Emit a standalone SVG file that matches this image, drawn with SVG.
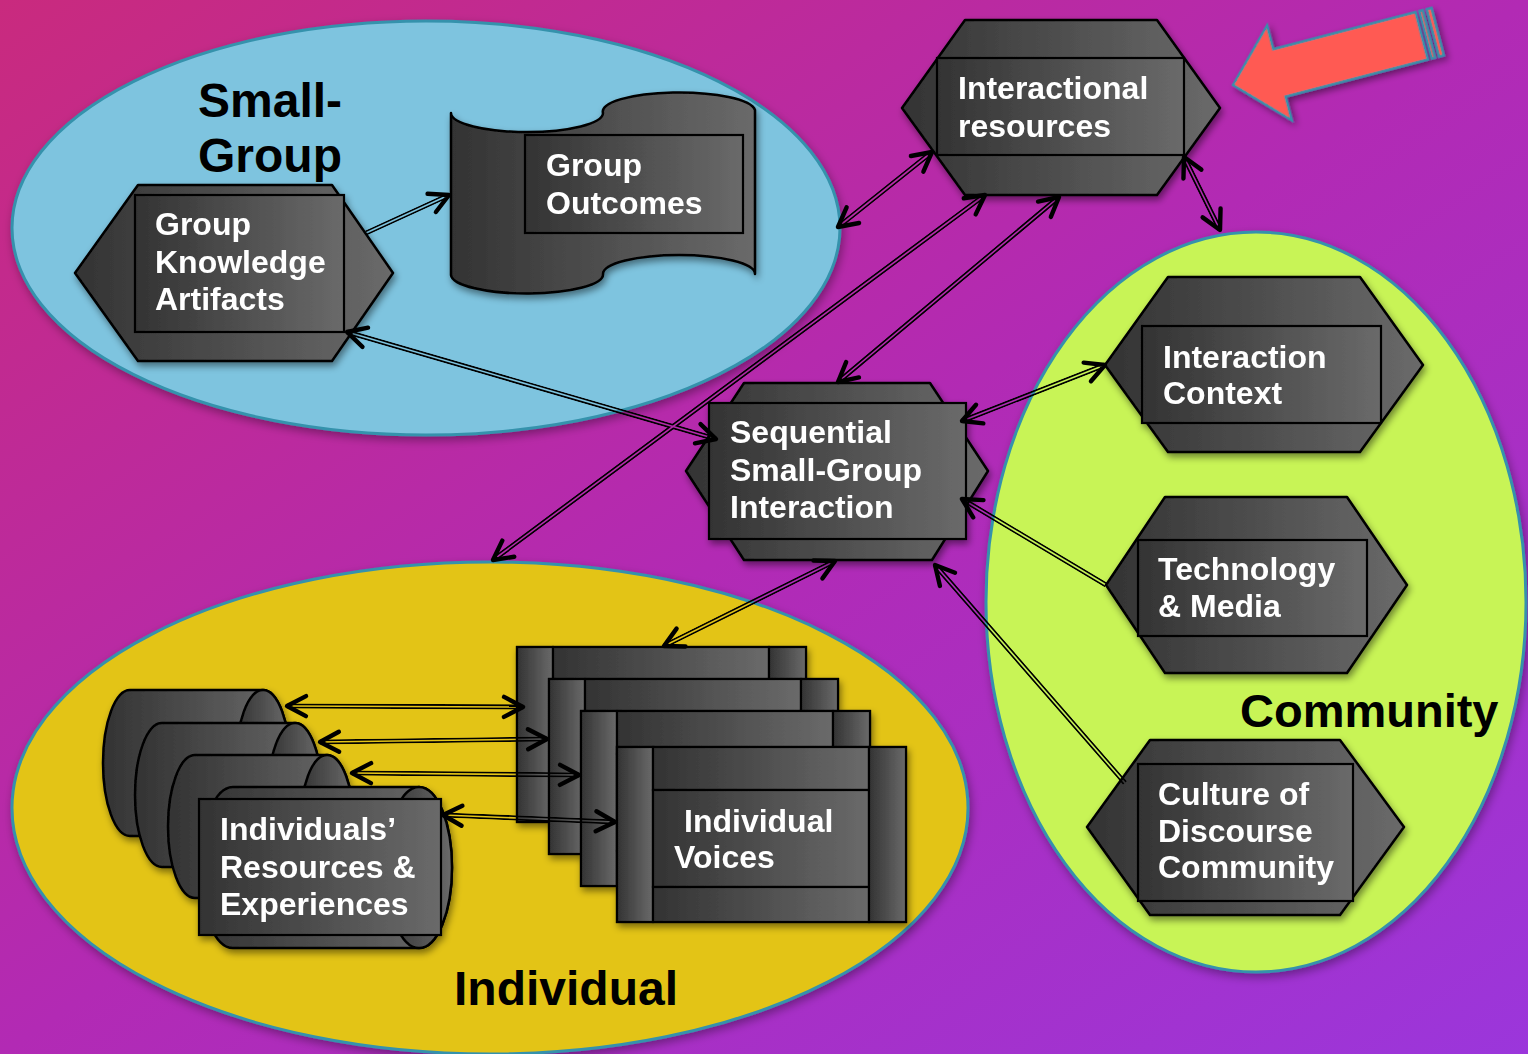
<svg xmlns="http://www.w3.org/2000/svg" xmlns:xlink="http://www.w3.org/1999/xlink" width="1528" height="1054" viewBox="0 0 1528 1054">
  <defs>
    <linearGradient id="bg" x1="0" y1="0" x2="1" y2="1">
      <stop offset="0" stop-color="#C92A7E"/>
      <stop offset="0.5" stop-color="#B22AB4"/>
      <stop offset="1" stop-color="#9B36DB"/>
    </linearGradient>
    <linearGradient id="metal" x1="0" y1="0" x2="1" y2="0">
      <stop offset="0" stop-color="#333333"/>
      <stop offset="1" stop-color="#6A6A6A"/>
    </linearGradient>
    <filter id="sh" x="-10%" y="-10%" width="125%" height="130%">
      <feDropShadow dx="2" dy="4" stdDeviation="3.5" flood-color="#000" flood-opacity="0.45"/>
    </filter>
    <filter id="shSoft" x="-5%" y="-5%" width="112%" height="115%">
      <feDropShadow dx="2" dy="4" stdDeviation="5" flood-color="#000" flood-opacity="0.35"/>
    </filter>
    <style>
      .region { stroke: #3592AC; stroke-width: 3; }
      .area { font-family: "Liberation Sans", Arial, sans-serif; font-weight: bold; fill: #000; }
      .shape { fill: url(#metal); stroke: #000; stroke-width: 2.5; stroke-linejoin: round; }
      .box { fill: url(#metal); stroke: #000; stroke-width: 2.2; }
      .lbl { font-family: "Liberation Sans", Arial, sans-serif; font-weight: bold; font-size: 32px; fill: #fff; }
      .arrowbody { fill: #FF5A52; stroke: #3790AA; stroke-width: 2.5; stroke-linejoin: miter; }
    </style>
    <!-- open chevron arrowhead -->
    <marker id="ah" markerUnits="userSpaceOnUse" orient="auto-start-reverse" viewBox="-25 -25 50 50" markerWidth="50" markerHeight="50" refX="0" refY="0" style="overflow:visible">
      <path d="M-19,-10 L0,0 L-19,10" fill="none" stroke="#000" stroke-width="4.4" stroke-linecap="round" stroke-linejoin="round"/>
    </marker>
    <!-- one stacked "voice" frame, 289 x 175 -->
    <g id="frame">
      <rect class="box" x="0" y="0" width="289" height="175"/>
      <rect class="box" x="0" y="0" width="36" height="175"/>
      <rect class="box" x="36" y="0" width="216" height="43"/>
      <rect class="box" x="36" y="43" width="216" height="97"/>
      <rect class="box" x="36" y="140" width="216" height="35"/>
      <rect class="box" x="252" y="0" width="37" height="175"/>
    </g>
    <!-- connector geometry -->
    <path id="c1" d="M366,233 L449,195"/>
    <path id="c2" d="M347,332 L716,439"/>
    <path id="c3" d="M838,227 L932,152"/>
    <path id="c4" d="M985,195 L493,560"/>
    <path id="c5" d="M1059,197 L838,382"/>
    <path id="c6" d="M1184,157 L1220,230"/>
    <path id="c7" d="M962,421 L1105,365"/>
    <path id="c8" d="M1106,585 L962,499"/>
    <path id="c9" d="M1125,783 L935,565"/>
    <path id="c10" d="M835,561 L664,646"/>
    <path id="c11" d="M287,706 L523,707"/>
    <path id="c12" d="M320,742 L547,739"/>
    <path id="c13" d="M352,773 L579,775"/>
    <path id="c14" d="M443,815 L615,822"/>
    <!-- double-line mask: outer stroke minus inner gap -->
    <mask id="dbl" maskUnits="userSpaceOnUse" x="0" y="0" width="1528" height="1054">
      <g fill="none" stroke="#fff" stroke-width="5.2">
        <use xlink:href="#c1"/><use xlink:href="#c2"/><use xlink:href="#c3"/><use xlink:href="#c4"/>
        <use xlink:href="#c5"/><use xlink:href="#c6"/><use xlink:href="#c7"/><use xlink:href="#c8"/>
        <use xlink:href="#c9"/><use xlink:href="#c10"/><use xlink:href="#c11"/><use xlink:href="#c12"/>
        <use xlink:href="#c13"/><use xlink:href="#c14"/>
      </g>
      <g fill="none" stroke="#000" stroke-width="1.6">
        <use xlink:href="#c1"/><use xlink:href="#c2"/><use xlink:href="#c3"/><use xlink:href="#c4"/>
        <use xlink:href="#c5"/><use xlink:href="#c6"/><use xlink:href="#c7"/><use xlink:href="#c8"/>
        <use xlink:href="#c9"/><use xlink:href="#c10"/><use xlink:href="#c11"/><use xlink:href="#c12"/>
        <use xlink:href="#c13"/><use xlink:href="#c14"/>
      </g>
    </mask>
  </defs>

  <!-- backdrop -->
  <rect x="0" y="0" width="1528" height="1054" fill="url(#bg)"/>

  <!-- regions -->
  <g id="region-small-group" filter="url(#shSoft)">
    <ellipse class="region" cx="426" cy="228" rx="414" ry="207" fill="#7EC4DF"/>
  </g>
  <g id="region-individual" filter="url(#shSoft)">
    <ellipse class="region" cx="490" cy="808" rx="478" ry="246" fill="#E3C419"/>
  </g>
  <g id="region-community" filter="url(#shSoft)">
    <ellipse class="region" cx="1256" cy="602" rx="270" ry="370" fill="#C8F457"/>
  </g>

  <!-- region titles -->
  <g id="titles" class="area">
    <text x="198" y="117" font-size="48">Small-</text>
    <text x="198" y="172" font-size="48">Group</text>
    <text x="1240" y="727" font-size="47">Community</text>
    <text x="454" y="1005" font-size="48">Individual</text>
  </g>

  <!-- pointer arrow -->
  <g id="pointer" filter="url(#sh)" transform="translate(1233,85) rotate(-14.6)">
    <path class="arrowbody" d="M0,0 L48,-49 L48,-24.5 L195,-24.5 L195,24.5 L48,24.5 L48,49 Z"/>
    <rect class="arrowbody" x="199" y="-24.5" width="3.5" height="49"/>
    <rect class="arrowbody" x="206.5" y="-24.5" width="5" height="49"/>
  </g>

  <!-- nodes -->
  <g id="group-knowledge-artifacts" filter="url(#sh)">
    <polygon class="shape" points="75,273 138,185 332,185 393,273 332,361 138,361"/>
    <rect class="box" x="135" y="195" width="209" height="137"/>
    <text class="lbl" font-size="31" x="155" y="235">Group</text>
    <text class="lbl" font-size="31" x="155" y="273">Knowledge</text>
    <text class="lbl" font-size="31" x="155" y="310">Artifacts</text>
  </g>

  <g id="group-outcomes" filter="url(#sh)">
    <path class="shape" d="M451,113 A76,19 0 0 0 603,113 A76,19 0 0 1 755,110 L755,274 A76,19 0 0 0 603,274 A76,19 0 0 1 451,275 Z"/>
    <rect class="box" x="525" y="135" width="218" height="98"/>
    <text class="lbl" font-size="31" x="546" y="176">Group</text>
    <text class="lbl" font-size="31" x="546" y="214">Outcomes</text>
  </g>

  <g id="interactional-resources" filter="url(#sh)">
    <polygon class="shape" points="902,108 965,20 1157,20 1220,108 1157,195 965,195"/>
    <rect class="box" x="937" y="58" width="247" height="97"/>
    <text class="lbl" x="958" y="99">Interactional</text>
    <text class="lbl" x="958" y="137">resources</text>
  </g>

  <g id="sequential-interaction" filter="url(#sh)">
    <polygon class="shape" points="686,471 744,383 930,383 988,471 932,560 744,560"/>
    <rect class="box" x="709" y="403" width="257" height="136"/>
    <text class="lbl" x="730" y="443">Sequential</text>
    <text class="lbl" x="730" y="481">Small-Group</text>
    <text class="lbl" x="730" y="518">Interaction</text>
  </g>

  <g id="interaction-context" filter="url(#sh)">
    <polygon class="shape" points="1105,365 1168,277 1360,277 1423,365 1360,452 1168,452"/>
    <rect class="box" x="1142" y="326" width="239" height="97"/>
    <text class="lbl" x="1163" y="368">Interaction</text>
    <text class="lbl" x="1163" y="404">Context</text>
  </g>

  <g id="technology-media" filter="url(#sh)">
    <polygon class="shape" points="1106,585 1165,497 1347,497 1407,585 1347,673 1165,673"/>
    <rect class="box" x="1138" y="540" width="229" height="96"/>
    <text class="lbl" font-size="31" x="1158" y="580">Technology</text>
    <text class="lbl" font-size="31" x="1158" y="617">&amp; Media</text>
  </g>

  <g id="culture-of-discourse" filter="url(#sh)">
    <polygon class="shape" points="1087,827 1150,740 1340,740 1404,827 1340,915 1150,915"/>
    <rect class="box" x="1138" y="764" width="215" height="137"/>
    <text class="lbl" x="1158" y="805">Culture of</text>
    <text class="lbl" x="1158" y="842">Discourse</text>
    <text class="lbl" x="1158" y="878">Community</text>
  </g>

  <g id="individual-resources" filter="url(#sh)">
    <path class="shape" d="M130,690 L263,690 A27,73 0 0 1 263,836 L130,836 A27,73 0 0 1 130,690 Z"/>
    <ellipse class="shape" cx="263" cy="763" rx="27" ry="73"/>
    <path class="shape" d="M162,723 L295,723 A27,72 0 0 1 295,867 L162,867 A27,72 0 0 1 162,723 Z"/>
    <ellipse class="shape" cx="295" cy="795" rx="27" ry="72"/>
    <path class="shape" d="M195,755 L327,755 A27,71.5 0 0 1 327,898 L195,898 A27,71.5 0 0 1 195,755 Z"/>
    <ellipse class="shape" cx="327" cy="826.5" rx="27" ry="71.5"/>
    <path class="shape" d="M233,787 L419,787 A33,80.5 0 0 1 419,948 L233,948 A33,80.5 0 0 1 233,787 Z"/>
    <ellipse class="shape" cx="419" cy="867.5" rx="33" ry="80.5"/>
    <rect class="box" x="199" y="799" width="242" height="136"/>
    <text class="lbl" x="220" y="840">Individuals’</text>
    <text class="lbl" font-size="31" x="220" y="878">Resources &amp;</text>
    <text class="lbl" x="220" y="915">Experiences</text>
  </g>

  <g id="individual-voices" filter="url(#sh)">
    <use xlink:href="#frame" x="517" y="647"/>
    <use xlink:href="#frame" x="549" y="679"/>
    <use xlink:href="#frame" x="581" y="711"/>
    <use xlink:href="#frame" x="617" y="747"/>
    <text class="lbl" x="684" y="832">Individual</text>
    <text class="lbl" font-size="31" x="674" y="868">Voices</text>
  </g>

  <!-- connectors: double lines with open chevron heads -->
  <g id="connectors">
    <g mask="url(#dbl)" fill="none" stroke="#000" stroke-width="5.2">
      <use xlink:href="#c1"/><use xlink:href="#c2"/><use xlink:href="#c3"/><use xlink:href="#c4"/>
      <use xlink:href="#c5"/><use xlink:href="#c6"/><use xlink:href="#c7"/><use xlink:href="#c8"/>
      <use xlink:href="#c9"/><use xlink:href="#c10"/><use xlink:href="#c11"/><use xlink:href="#c12"/>
      <use xlink:href="#c13"/><use xlink:href="#c14"/>
    </g>
    <g fill="none" stroke="none">
      <path d="M366,233 L449,195" marker-end="url(#ah)"/>
      <path d="M347,332 L716,439" marker-start="url(#ah)" marker-end="url(#ah)"/>
      <path d="M838,227 L932,152" marker-start="url(#ah)" marker-end="url(#ah)"/>
      <path d="M985,195 L493,560" marker-start="url(#ah)" marker-end="url(#ah)"/>
      <path d="M1059,197 L838,382" marker-start="url(#ah)" marker-end="url(#ah)"/>
      <path d="M1184,157 L1220,230" marker-start="url(#ah)" marker-end="url(#ah)"/>
      <path d="M962,421 L1105,365" marker-start="url(#ah)" marker-end="url(#ah)"/>
      <path d="M1106,585 L962,499" marker-end="url(#ah)"/>
      <path d="M1125,783 L935,565" marker-end="url(#ah)"/>
      <path d="M835,561 L664,646" marker-start="url(#ah)" marker-end="url(#ah)"/>
      <path d="M287,706 L523,707" marker-start="url(#ah)" marker-end="url(#ah)"/>
      <path d="M320,742 L547,739" marker-start="url(#ah)" marker-end="url(#ah)"/>
      <path d="M352,773 L579,775" marker-start="url(#ah)" marker-end="url(#ah)"/>
      <path d="M443,815 L615,822" marker-start="url(#ah)" marker-end="url(#ah)"/>
    </g>
  </g>
</svg>
